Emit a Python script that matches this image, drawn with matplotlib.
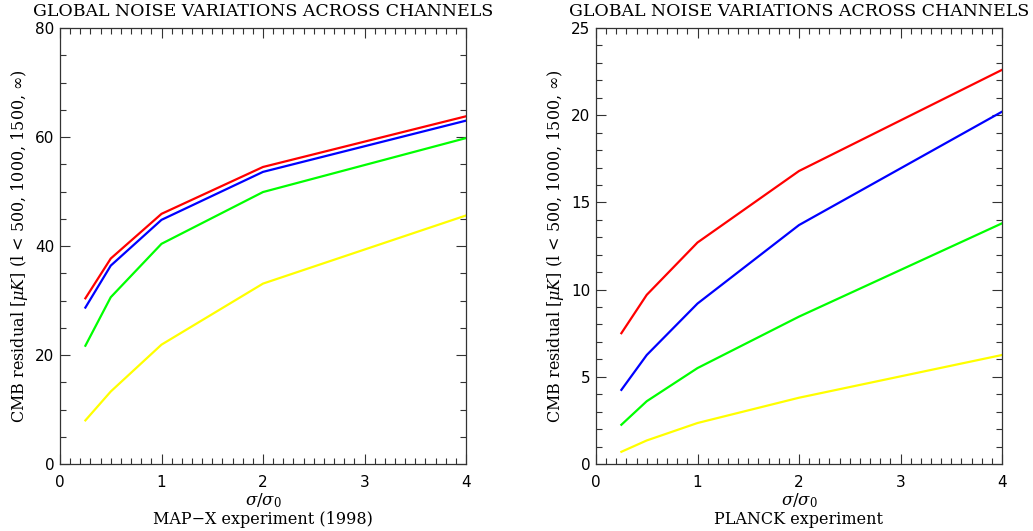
import matplotlib.pyplot as plt
from matplotlib.ticker import MultipleLocator

plt.rcParams['mathtext.fontset'] = 'dejavuserif'

# noise scaling factor sigma/sigma_0
sigma_ratio = [0.25, 0.5, 1.0, 2.0, 4.0]
line_colors = ['red', 'blue', '#00ff00', '#ffff00']   # l < 500, 1000, 1500, inf

mapx_red = [30.4, 37.7, 45.9, 54.5, 63.8]
mapx_blue = [28.7, 36.4, 44.8, 53.6, 63.0]
mapx_green = [21.7, 30.6, 40.4, 49.9, 59.8]
mapx_yellow = [8.0, 13.3, 21.9, 33.1, 45.6]

planck_red = [7.5, 9.7, 12.7, 16.8, 22.6]
planck_blue = [4.25, 6.25, 9.2, 13.7, 20.2]
planck_green = [2.25, 3.6, 5.5, 8.45, 13.8]
planck_yellow = [0.7, 1.35, 2.35, 3.8, 6.25]

panels = [
    dict(series=[mapx_red, mapx_blue, mapx_green, mapx_yellow],
         ymax=80, ymajor=20, yminor=5, caption='MAP\u2212X experiment (1998)'),
    dict(series=[planck_red, planck_blue, planck_green, planck_yellow],
         ymax=25, ymajor=5, yminor=1, caption='PLANCK experiment'),
]

serif = 'DejaVu Serif'

fig = plt.figure(figsize=(10.33, 5.31), dpi=100)
lefts = [60, 596]
for left, p in zip(lefts, panels):
    ax = fig.add_axes([left / 1033, (531 - 464) / 531, 406 / 1033, 436 / 531])
    for ys, c in zip(p['series'], line_colors):
        ax.plot(sigma_ratio, ys, color=c, lw=1.6, solid_joinstyle='miter')
    ax.set_xlim(0, 4)
    ax.set_ylim(0, p['ymax'])
    ax.xaxis.set_major_locator(MultipleLocator(1))
    ax.xaxis.set_minor_locator(MultipleLocator(0.1))
    ax.yaxis.set_major_locator(MultipleLocator(p['ymajor']))
    ax.yaxis.set_minor_locator(MultipleLocator(p['yminor']))
    ax.tick_params(which='both', direction='in', top=True, right=True,
                   color='#333333', width=0.8)
    ax.tick_params(which='major', length=7, labelsize=11)
    ax.tick_params(axis='x', which='major', pad=8)
    ax.tick_params(axis='y', which='major', pad=4)
    ax.tick_params(which='minor', length=4)
    for s in ax.spines.values():
        s.set_color('#333333')
        s.set_linewidth(0.9)
    ax.set_title('GLOBAL NOISE VARIATIONS ACROSS CHANNELS',
                 family=serif, fontsize=12.5, pad=9)
    ax.set_ylabel(r'CMB residual [$\mu K$] (l < 500, 1000, 1500, $\infty$)',
                  family=serif, fontsize=11.5, labelpad=4)
    ax.text(0.5, -0.083, r'$\sigma/\sigma_0$', transform=ax.transAxes,
            ha='center', va='center', fontsize=12)
    ax.text(0.5, -0.127, p['caption'], transform=ax.transAxes,
            ha='center', va='center', family=serif, fontsize=11.5)

fig.savefig('out.png', dpi=100)
